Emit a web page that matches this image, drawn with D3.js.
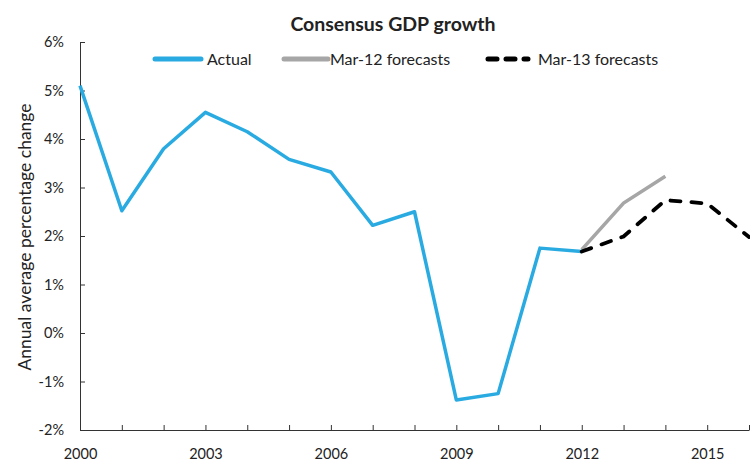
<!DOCTYPE html>
<meta charset="utf-8">
<style>
    body { margin: 0; background: #fff; }
    text { font-family: Lato, "Open Sans", sans-serif; fill: #222; }
    .title { font-size: 19.5px; font-weight: bold; text-anchor: middle; }
    .tick text { font-size: 14.5px; }
    .legend text { font-size: 16px; }
    .axis path, .axis line { stroke: #333; }
</style>
<script src="https://d3js.org/d3.v7.min.js"></script>
<div id="chart"></div>
<script>
// values
var actualYears = [2000, 2001, 2002, 2003, 2004, 2005, 2006, 2007, 2008, 2009, 2010, 2011, 2012];
var actualGrowth = [5.1, 2.52, 3.8, 4.55, 4.15, 3.58, 3.32, 2.22, 2.5, -1.38, -1.25, 1.75, 1.68];
var mar12Years = [2012, 2013, 2014];
var mar12Growth = [1.72, 2.68, 3.23];
var mar13Years = [2012, 2013, 2014, 2015, 2016];
var mar13Growth = [1.68, 1.99, 2.74, 2.67, 1.98];
var yTicks = [-2, -1, 0, 1, 2, 3, 4, 5, 6];
var xLabelYears = [2000, 2003, 2006, 2009, 2012, 2015];
var seriesNames = ["Actual", "Mar-12 forecasts", "Mar-13 forecasts"];

var width = 750, height = 462;
var margin = {top: 42, right: 1, bottom: 32, left: 80};

var svg = d3.select("#chart").append("svg")
    .attr("width", width)
    .attr("height", height);

var x = d3.scaleLinear().domain([2000, 2016]).range([margin.left, width - margin.right]);
var y = d3.scaleLinear().domain([-2, 6]).range([height - margin.bottom, margin.top]);

// x axis: a tick every year, labels every three
svg.append("g")
    .attr("class", "axis")
    .attr("transform", "translate(0," + y(-2) + ")")
    .call(d3.axisBottom(x).tickValues(d3.range(2000, 2017)).tickSize(-5).tickSizeOuter(0)
        .tickFormat(function (d) { return xLabelYears.indexOf(d) >= 0 ? d : ""; }))
    .call(function (g) { g.selectAll(".tick text").attr("dy", "1.8em"); });

// y axis
svg.append("g")
    .attr("class", "axis")
    .attr("transform", "translate(" + x(2000) + ",0)")
    .call(d3.axisLeft(y).tickValues(yTicks).tickSize(-5).tickSizeOuter(0)
        .tickFormat(function (d) { return d + "%"; }))
    .call(function (g) { g.selectAll(".tick text").attr("x", -16); });

svg.append("text")
    .attr("transform", "translate(25," + ((y(6) + y(-2)) / 2 + 1) + ") rotate(-90)")
    .attr("text-anchor", "middle")
    .attr("dy", "0.35em")
    .style("font-size", "17.5px")
    .text("Annual average percentage change");

svg.append("text")
    .attr("class", "title")
    .attr("x", 393)
    .attr("y", 31)
    .text("Consensus GDP growth");

var line = d3.line()
    .x(function (d) { return x(d[0]); })
    .y(function (d) { return y(d[1]); });

svg.append("path")
    .datum(d3.zip(mar12Years, mar12Growth))
    .attr("fill", "none")
    .attr("stroke", "#a6a6a6")
    .attr("stroke-width", 3.5)
    .attr("d", line);

svg.append("path")
    .datum(d3.zip(actualYears, actualGrowth))
    .attr("fill", "none")
    .attr("stroke", "#29abe2")
    .attr("stroke-width", 3.5)
    .attr("stroke-linejoin", "round")
    .attr("d", line);

svg.append("path")
    .datum(d3.zip(mar13Years, mar13Growth))
    .attr("fill", "none")
    .attr("stroke", "#000")
    .attr("stroke-width", 3.8)
    .attr("stroke-linecap", "round")
    .attr("stroke-dasharray", "10,11")
    .attr("d", line);

// legend
var legendX = [155, 284, 488];
var legendStyles = [
    {color: "#29abe2", dash: null, len: 46},
    {color: "#a6a6a6", dash: null, len: 44},
    {color: "#000", dash: "9,9", len: 40}
];
var legend = svg.append("g").attr("class", "legend");
seriesNames.forEach(function (name, i) {
    var s = legendStyles[i];
    legend.append("line")
        .attr("x1", legendX[i]).attr("x2", legendX[i] + s.len)
        .attr("y1", 59).attr("y2", 59)
        .attr("stroke", s.color)
        .attr("stroke-width", 5)
        .attr("stroke-linecap", "round")
        .attr("stroke-dasharray", s.dash);
    legend.append("text")
        .attr("x", [207, 330, 538][i])
        .attr("y", 59)
        .attr("dy", "0.35em")
        .text(name);
});
</script>
